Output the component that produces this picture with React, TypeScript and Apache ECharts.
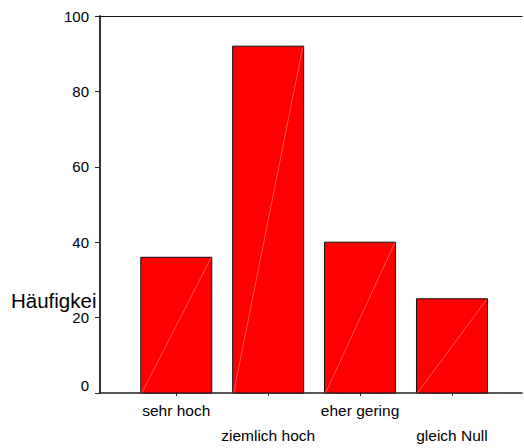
import React, { useEffect, useRef } from "react";
import * as echarts from "echarts";

const categories = ["sehr hoch", "ziemlich hoch", "eher gering", "gleich Null"];
const frequencies = [36, 92, 40, 25];
const categoryPositions = [1, 2, 3, 4];
const yAxisTitle = "Häufigkei";

export default function App() {
  const ref = useRef<HTMLDivElement>(null);
  useEffect(() => {
    if (!ref.current) return;
    const chart = echarts.init(ref.current, null, { renderer: "svg" });
    const font = "'Liberation Sans', Arial, sans-serif";
    const data = categoryPositions.map((p, i) => [p, frequencies[i]]);
    chart.setOption({
      animation: false,
      backgroundColor: "#ffffff",
      grid: { left: 100, top: 16, width: 422, height: 379.5, containLabel: false },
      xAxis: [
        {
          type: "value",
          position: "bottom",
          min: 0.17,
          max: 4.762,
          axisLine: { show: true, onZero: false, lineStyle: { color: "#222", width: 1.5 } },
          axisTick: { show: true, customValues: categoryPositions, length: 3, lineStyle: { color: "#222" } },
          axisLabel: {
            show: true,
            customValues: categoryPositions,
            formatter: (v: number) => {
              const i = Math.round(v) - 1;
              return (i % 2 === 1 ? "\n" : "") + categories[i];
            },
            fontSize: 15.5,
            lineHeight: 25,
            margin: 5,
            color: "#000",
            fontFamily: font,
          },
          splitLine: { show: false },
        },
        {
          type: "value",
          position: "top",
          min: 0.17,
          max: 4.762,
          axisLine: { show: true, onZero: false, lineStyle: { color: "#111", width: 1.2 } },
          axisTick: { show: false },
          axisLabel: { show: false },
          splitLine: { show: false },
        },
      ],
      yAxis: {
        type: "value",
        min: 0,
        max: 100,
        interval: 20,
        axisLine: { show: true, lineStyle: { color: "#333", width: 2 } },
        axisTick: { show: true, length: 5, lineStyle: { color: "#222", width: 1 } },
        axisLabel: {
          fontSize: 15,
          margin: 11,
          color: "#000",
          fontFamily: font,
          formatter: (v: number) => (v === 0 ? "{z|0}" : String(v)),
          rich: { z: { fontSize: 15, fontFamily: font, color: "#000", padding: [0, 0, 16, 0] } },
        },
        splitLine: { show: false },
      },
      graphic: [
        {
          type: "text",
          left: 11,
          top: 290,
          z: 10,
          style: { text: yAxisTitle, fill: "#000", font: `20.5px ${font}`, lineHeight: 17 },
        },
      ],
      series: [
        {
          type: "custom",
          xAxisIndex: 0,
          yAxisIndex: 0,
          data,
          renderItem: (params: any, api: any) => {
            const x = api.value(0);
            const y = api.value(1);
            const top = api.coord([x, y]);
            const base = api.coord([x, 0]);
            const w = 71;
            const left = top[0] - w / 2;
            return {
              type: "group",
              children: [
                {
                  type: "rect",
                  shape: { x: left, y: top[1], width: w, height: base[1] - top[1] },
                  style: { fill: "#ff0000", stroke: "#111", lineWidth: 1 },
                },
                {
                  type: "line",
                  shape: { x1: left + 1, y1: base[1], x2: left + w - 1, y2: top[1] + 1 },
                  style: { stroke: "#ff8c8c", lineWidth: 0.6 },
                },
              ],
            };
          },
        },
      ],
    });
    return () => chart.dispose();
  }, []);
  return (
    <div
      ref={ref}
      style={{ position: "fixed", left: 0, top: 0, width: 524, height: 448, background: "#fff" }}
    />
  );
}
